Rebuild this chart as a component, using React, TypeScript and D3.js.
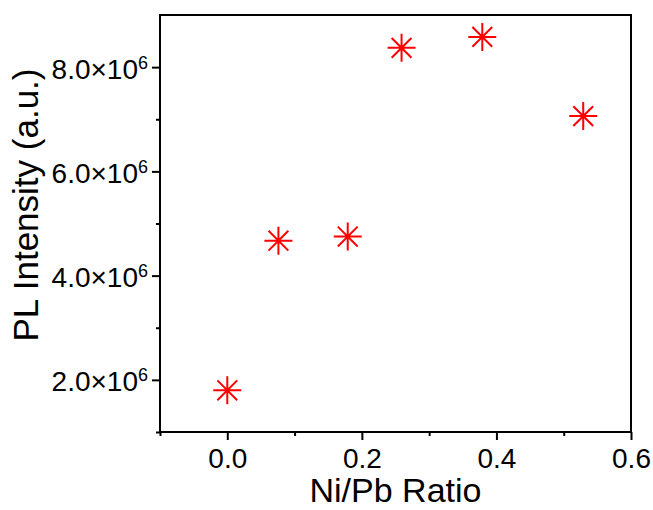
import React, { useEffect, useRef } from 'react';
import * as d3 from 'd3';

// values
const ratios = [0.0, 0.076, 0.179, 0.259, 0.379, 0.529];
const intensities = [1.8e6, 4.67e6, 4.75e6, 8.37e6, 8.58e6, 7.06e6];

const xMajorTicks = [0.0, 0.2, 0.4, 0.6];
const xMinorTicks = [-0.1, 0.1, 0.3, 0.5];
const yMajorTicks = [2e6, 4e6, 6e6, 8e6];
const yMinorTicks = [1e6, 3e6, 5e6, 7e6];

const xTitle = 'Ni/Pb Ratio';
const yTitle = 'PL Intensity (a.u.)';

const App = () => {
  const svgRef = useRef<SVGSVGElement | null>(null);

  useEffect(() => {
    const W = 653;
    const H = 510;
    const margin = { top: 15, right: 22, bottom: 78, left: 160 };
    const width = W - margin.left - margin.right;
    const height = H - margin.top - margin.bottom;
    const font = 'Liberation Sans, Arial, sans-serif';

    const svg = d3.select(svgRef.current);
    svg.selectAll('*').remove();

    const g = svg.append('g').attr('transform', `translate(${margin.left}, ${margin.top})`);

    const x = d3.scaleLinear().domain([-0.1, 0.6]).range([0, width]);
    const y = d3.scaleLinear().domain([1e6, 9e6]).range([height, 0]);

    // bottom axis, major + minor ticks
    const xAxis = g.append('g')
      .attr('transform', `translate(0, ${height})`)
      .call(d3.axisBottom(x).tickValues(xMajorTicks).tickSize(8).tickSizeOuter(0).tickPadding(8)
        .tickFormat((d) => d3.format('.1f')(d as number)));
    g.append('g')
      .attr('transform', `translate(0, ${height})`)
      .call(d3.axisBottom(x).tickValues(xMinorTicks).tickSize(4).tickSizeOuter(0).tickFormat(() => ''));

    xAxis.selectAll('text')
      .attr('font-family', font)
      .style('font-size', '28px')
      .attr('fill', '#000');

    // left axis
    const yAxis = g.append('g')
      .call(d3.axisLeft(y).tickValues(yMajorTicks).tickSize(8).tickSizeOuter(0).tickFormat(() => ''));
    g.append('g')
      .call(d3.axisLeft(y).tickValues(yMinorTicks).tickSize(4).tickSizeOuter(0).tickFormat(() => ''));

    g.selectAll('.domain').remove();
    g.selectAll('.tick line').attr('stroke', '#000').attr('stroke-width', 2);

    // y tick labels with superscript exponent
    yAxis.selectAll('.tick').each(function (d) {
      const t = d3.select(this).append('text')
        .attr('x', -12)
        .attr('y', 11)
        .attr('text-anchor', 'end')
        .attr('font-family', font)
        .style('font-size', '28px')
        .attr('fill', '#000');
      t.append('tspan').text(`${d3.format('.1f')((d as number) / 1e6)}\u00d710`);
      t.append('tspan').attr('dy', -10).style('font-size', '18px').text('6');
    });

    // frame
    g.append('rect')
      .attr('x', 0)
      .attr('y', 0)
      .attr('width', width)
      .attr('height', height)
      .attr('fill', 'none')
      .attr('stroke', '#000')
      .attr('stroke-width', 2);

    // asterisk markers
    const r = 14;
    const star = [0, 45, 90, 135].map((a) => {
      const rad = (a * Math.PI) / 180;
      const dx = r * Math.cos(rad);
      const dy = r * Math.sin(rad);
      return `M${-dx},${-dy}L${dx},${dy}`;
    }).join('');

    g.selectAll('.pt')
      .data(ratios.map((v, i) => ({ x: v, y: intensities[i] })))
      .enter()
      .append('path')
      .attr('class', 'pt')
      .attr('transform', (d) => `translate(${x(d.x)}, ${y(d.y)})`)
      .attr('d', star)
      .attr('fill', 'none')
      .attr('stroke', '#ff0000')
      .attr('stroke-width', 2);

    // axis titles
    svg.append('text')
      .attr('x', margin.left + width / 2)
      .attr('y', 502)
      .attr('text-anchor', 'middle')
      .attr('font-family', font)
      .style('font-size', '34px')
      .attr('fill', '#000')
      .text(xTitle);

    svg.append('text')
      .attr('transform', 'translate(38, 205) rotate(-90)')
      .attr('text-anchor', 'middle')
      .attr('font-family', font)
      .style('font-size', '35px')
      .attr('fill', '#000')
      .text(yTitle);
  }, []);

  return (
    <svg
      ref={svgRef}
      width={653}
      height={510}
      style={{ position: 'absolute', left: 0, top: 0, background: '#fff' }}
    />
  );
};

export default App;
